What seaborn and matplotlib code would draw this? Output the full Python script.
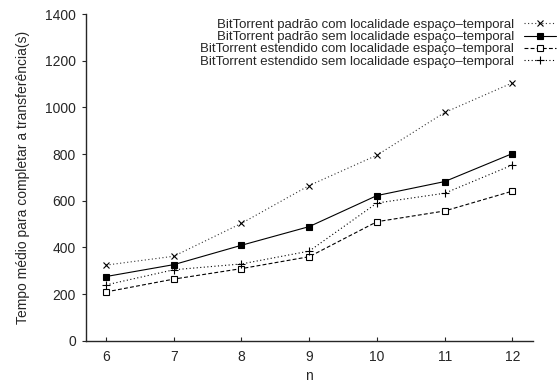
import matplotlib
matplotlib.use("Agg")
import matplotlib.pyplot as plt
import seaborn as sns
import pandas as pd

n_values = [6, 7, 8, 9, 10, 11, 12]
padrao_com = [324, 362, 503, 665, 795, 978, 1105]
padrao_sem = [275, 326, 409, 489, 622, 682, 802]
estendido_com = [209, 264, 309, 360, 510, 556, 641]
estendido_sem = [239, 304, 329, 384, 590, 632, 753]

labels = [
    "BitTorrent padrão com localidade espaço\u2013temporal",
    "BitTorrent padrão sem localidade espaço\u2013temporal",
    "BitTorrent estendido com localidade espaço\u2013temporal",
    "BitTorrent estendido sem localidade espaço\u2013temporal",
]
series = [padrao_com, padrao_sem, estendido_com, estendido_sem]

sns.set_style("ticks")
plt.rcParams["font.family"] = ["Liberation Sans", "DejaVu Sans"]
plt.rcParams["font.size"] = 10

rows = []
for lab, vals in zip(labels, series):
    for x, y in zip(n_values, vals):
        rows.append({"n": x, "t": y, "serie": lab})
df = pd.DataFrame(rows)

fig = plt.figure(figsize=(5.57, 3.83), dpi=100)
ax = fig.add_axes([0.1538, 0.1104, 0.8026, 0.8530])

styles = [
    dict(marker="x", linestyle=(0, (1, 2.2)), color="#333333", mfc="none", mec="black", ms=4.5, mew=0.8),
    dict(marker="s", linestyle="-", color="black", mfc="black", mec="black", ms=4.5, mew=0.8),
    dict(marker="s", linestyle=(0, (3.5, 2)), color="black", mfc="white", mec="black", ms=4.5, mew=0.8),
    dict(marker="+", linestyle=(0, (1, 2.2)), color="black", mfc="none", mec="black", ms=5.5, mew=0.8),
]

for lab, st in zip(labels, styles):
    sub = df[df["serie"] == lab]
    sns.lineplot(data=sub, x="n", y="t", ax=ax, label=lab, lw=0.8,
                 markeredgewidth=st["mew"], markersize=st["ms"],
                 marker=st["marker"], linestyle=st["linestyle"], color=st["color"],
                 markerfacecolor=st["mfc"], markeredgecolor=st["mec"])

ax.set_xlim(5.70, 12.30)
ax.set_ylim(0, 1400)
ax.set_xticks(n_values)
ax.set_yticks(range(0, 1401, 200))
ax.spines["top"].set_visible(False)
ax.spines["right"].set_visible(False)
ax.spines["left"].set_linewidth(1.0)
ax.spines["bottom"].set_linewidth(1.0)
ax.tick_params(axis="x", direction="in", length=3, width=0.8, labelsize=10, pad=7)
ax.tick_params(axis="y", direction="out", length=3, width=0.8, labelsize=10, pad=4)
ax.set_xlabel("n", fontsize=10, labelpad=3)
ax.set_ylabel("Tempo médio para completar a transferência(s)", fontsize=10)
ax.yaxis.set_label_coords(-0.124, 0.5)

leg = ax.legend(loc="upper right", bbox_to_anchor=(0.9975, 0.951), bbox_transform=fig.transFigure,
                frameon=False, markerfirst=False, fontsize=9.5, handlelength=2.4,
                handletextpad=0.75, labelspacing=0.0, borderaxespad=0.0, borderpad=0.0)

fig.savefig("out.png", dpi=100)
